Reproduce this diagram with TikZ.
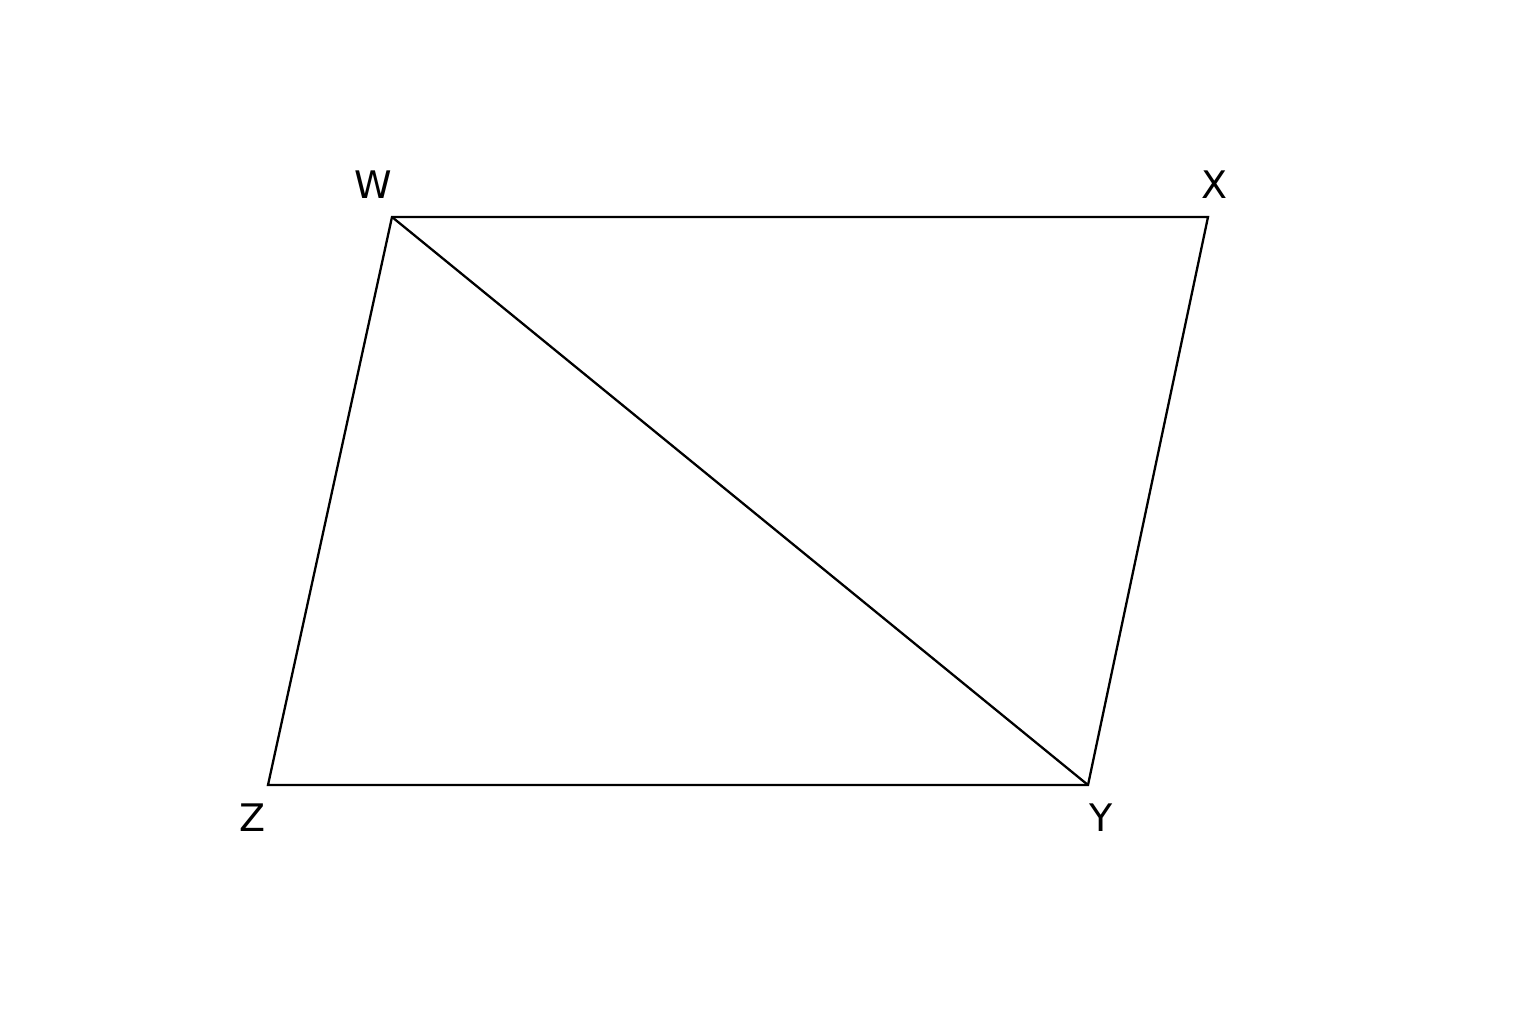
\documentclass[tikz,border=0pt]{standalone}
\usepackage{fontspec}
\setmainfont{DejaVu Sans}
\usepackage{tikz}
\usetikzlibrary{calc}
\tikzset{edge/.style={line width=0.65pt, color=black}, vlabel/.style={font=\fontsize{10.8}{13}\selectfont, inner sep=0pt}}

\begin{document}
\begin{tikzpicture}
			%%%%% START %%%%%
			
			\useasboundingbox (0, 0) rectangle (15.36, 10.24);
			
			\coordinate (W) at (3.92, 8.07);
			\coordinate (X) at (12.08, 8.07);
			\coordinate (Y) at (10.88, 2.39);
			\coordinate (Z) at (2.68, 2.39);
			
			\draw[edge] (W) -- (X) -- (Y) -- (Z) -- cycle;
			\draw[edge] (W) -- (Y);
			
			\node[vlabel] (labW) at (3.73, 8.39) {W};
			\node[vlabel] (labX) at (12.14, 8.39) {X};
			\node[vlabel] (labY) at (11.01, 2.06) {Y};
			\node[vlabel] (labZ) at (2.52, 2.06) {Z};
			
			%%%%% END %%%%%
		\end{tikzpicture}
\end{document}
